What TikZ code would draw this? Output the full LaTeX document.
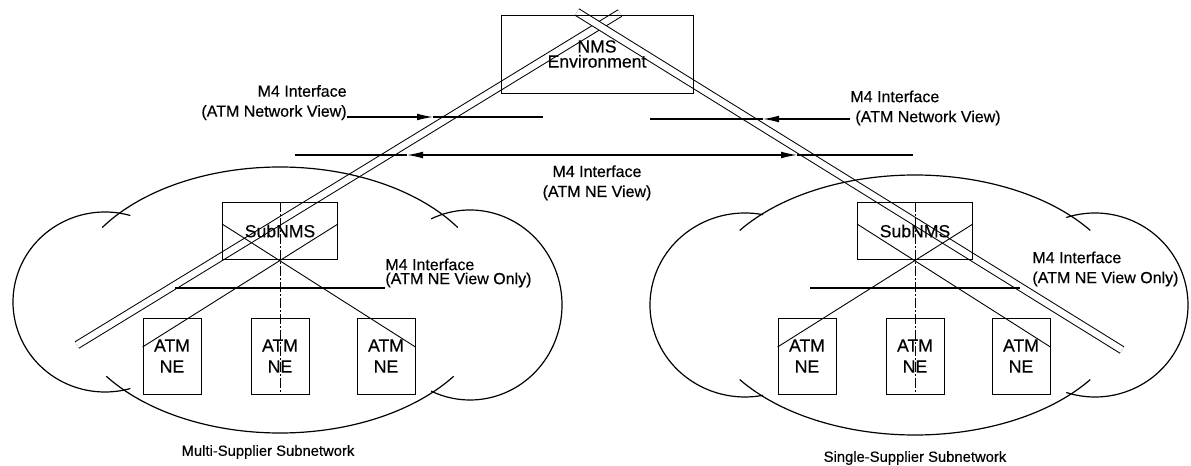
\documentclass[tikz,border=0pt]{standalone}
\usepackage{fontspec}
\setmainfont{Liberation Sans}[FakeBold=0.4]
\usetikzlibrary{arrows.meta,positioning,calc}

\tikzset{
  box/.style={draw, line width=0.45pt, align=center, inner sep=0pt, font=\fontsize{8.8}{10.5}\selectfont},
  lbl/.style={inner sep=0pt, font=\fontsize{8}{10}\selectfont},
  dbl/.style={double, double distance=3.2pt, line width=0.5pt},
  arr/.style={-{Latex[length=8pt,width=3.4pt]}, line width=0.6pt},
  hline/.style={line width=0.6pt},
  cloudline/.style={line width=0.6pt},
  xline/.style={line width=0.45pt},
  vline/.style={line width=0.35pt, dash pattern=on 5pt off 1pt on 1pt off 1pt}
}

\begin{document}
\begin{tikzpicture}[x=0.5pt,y=-0.5pt]
\useasboundingbox (0,0) rectangle (1191,466);

% the two M4 double lines
\coordinate (dLa) at (77,345);
\coordinate (dLb) at (620,13);
\coordinate (dRa) at (577,12);
\coordinate (dRb) at (1122,350);
\draw[dbl] (dLa) -- (dLb);
\draw[dbl] (dRa) -- (dRb);

\node[box, minimum width=96pt, minimum height=39pt] (nms) at (597,54) {NMS\\[-3pt]Environment};

% network view arrows
\coordinate (aL0) at (347,117); \coordinate (aL1) at (433,117); \coordinate (aL2) at (543,117);
\draw[arr] (aL0) -- (aL1); \draw[hline] (aL1) -- (aL2);
\node[lbl, align=right, above left=-1.7pt and 0pt of aL0] (nvL) {M4 Interface\\(ATM Network View)};

\coordinate (aR0) at (850,119); \coordinate (aR1) at (763,119); \coordinate (aR2) at (650,119);
\draw[arr] (aR0) -- (aR1); \draw[hline] (aR1) -- (aR2);
\node[lbl, align=left, anchor=west] (nvR) at ([yshift=5.5pt]aR0) {M4 Interface\\\hspace*{2.5pt}(ATM Network View)};

% NE view arrow
\coordinate (mA) at (295,155); \coordinate (mB) at (407,155); \coordinate (mC) at (597,155);
\coordinate (mD) at (797,155); \coordinate (mE) at (913,155);
\draw[arr] (mC) -- (mB); \draw[arr] (mC) -- (mD);
\draw[hline] (mB) -- (mA); \draw[hline] (mD) -- (mE);
\node[lbl, align=center, below=5pt of mC] (nvM) {M4 Interface\\(ATM NE View)};

% clouds
\draw[cloudline] (280,300) ++(213:212 and 133) arc[start angle=213, end angle=327, x radius=212, y radius=133];
\draw[cloudline] (280,300) ++(145:212 and 133) arc[start angle=145, end angle=35, x radius=212, y radius=133];
\draw[cloudline] (105,302) ++(286:92 and 90) arc[start angle=286, end angle=74, x radius=92, y radius=90];
\draw[cloudline] (470,305) ++(245:92 and 95) arc[start angle=245, end angle=475, x radius=92, y radius=95];

\draw[cloudline] (915,305) ++(215:214 and 130) arc[start angle=215, end angle=325, x radius=214, y radius=130];
\draw[cloudline] (915,305) ++(145:214 and 130) arc[start angle=145, end angle=35, x radius=214, y radius=130];
\draw[cloudline] (745,305) ++(281:95 and 92) arc[start angle=281, end angle=79, x radius=95, y radius=92];
\draw[cloudline] (1095,305) ++(252:93 and 92) arc[start angle=252, end angle=468, x radius=93, y radius=92];

% subnetworks
\foreach \s/\dx in {L/0,R/635}{
  \begin{scope}[shift={(\dx,0)}]
    \node[box, minimum width=57.5pt, minimum height=28.5pt] (sub\s) at (280,231) {SubNMS};
    \node[box, minimum width=29pt, minimum height=38pt] (ne\s1) at (172,356) {ATM\\NE};
    \node[box, minimum width=29pt, minimum height=38pt] (ne\s2) at (280,356) {ATM\\NE};
    \node[box, minimum width=29pt, minimum height=38pt] (ne\s3) at (386,356) {ATM\\NE};
    \draw[xline] ([yshift=3.5pt]sub\s.west) -- ([yshift=4.5pt]ne\s3.east);
    \draw[xline] ([yshift=3.5pt]sub\s.east) -- ([yshift=4.5pt]ne\s1.west);
    \draw[vline] (sub\s.north) -- (ne\s2.south);
    \coordinate (hl\s) at (175,288); \coordinate (hr\s) at (385,288);
    \draw[hline] (hl\s) -- (hr\s);
  \end{scope}
}

\node[lbl, align=left, anchor=west] (voL) at (385,273) {M4 Interface\\[-3pt](ATM NE View Only)};
\node[lbl, align=left, anchor=west] (voR) at (1032,269) {M4 Interface\\(ATM NE View Only)};

\node[lbl, font=\fontsize{7.4}{9}\selectfont] (msn) at (268,452) {Multi-Supplier Subnetwork};
\node[lbl, font=\fontsize{7.4}{9}\selectfont] (ssn) at (915,458) {Single-Supplier Subnetwork};
\end{tikzpicture}
\end{document}
